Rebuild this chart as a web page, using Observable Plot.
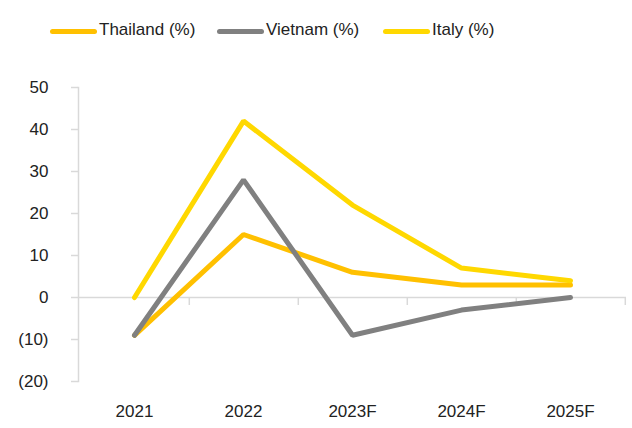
<!DOCTYPE html>
<html><head><meta charset="utf-8">
<script src="https://cdn.jsdelivr.net/npm/d3@7"></script>
<script src="https://cdn.jsdelivr.net/npm/@observablehq/plot@0.6"></script>
<style>
body{margin:0;background:#fff;font-family:"Liberation Sans","DejaVu Sans",sans-serif;}
#legend{height:60px;position:relative;font-size:17px;color:#222;}
.item{position:absolute;top:0;height:60px;display:flex;align-items:center;}
.sw{width:47px;height:5px;border-radius:3px;margin-right:2px;margin-top:3px;}
#chart svg{display:block;}
</style></head><body>
<div id="legend"></div><div id="chart"></div>
<script>
const years = ["2021","2022","2023F","2024F","2025F"];
const thailand = [-9, 15, 6, 3, 3];
const vietnam = [-9, 28, -9, -3, 0];
const italy = [0, 42, 22, 7, 4];
const seriesNames = ["Thailand (%)", "Vietnam (%)", "Italy (%)"];
const seriesColors = ["#FFC000", "#808080", "#FFD800"];
const yTicks = [-20, -10, 0, 10, 20, 30, 40, 50];

const seriesValues = [thailand, vietnam, italy];
const data = [];
seriesNames.forEach((s, i) => years.forEach((y, j) => data.push({series: s, year: y, value: seriesValues[i][j]})));

const legendLeft = [50, 217, 383];
const legend = document.getElementById("legend");
seriesNames.forEach((s, i) => {
  const it = document.createElement("div"); it.className = "item"; it.style.left = legendLeft[i] + "px";
  const sw = document.createElement("div"); sw.className = "sw"; sw.style.background = seriesColors[i];
  const t = document.createElement("span"); t.textContent = s;
  it.appendChild(sw); it.appendChild(t); legend.appendChild(it);
});

const W = 632, H = 368, mL = 78, mR = 6, mT = 27, mB = 47;
const step = (W - mL - mR) / years.length;
const axisColor = "#d9d9d9";
const fmt = d => d < 0 ? `(${-d})` : `${d}`;

const chart = Plot.plot({
  width: W, height: H,
  marginLeft: mL, marginRight: mR, marginTop: mT, marginBottom: mB,
  style: {fontFamily: '"Liberation Sans","DejaVu Sans",sans-serif', fontSize: "17px", color: "#222", background: "#fff"},
  x: {type: "point", domain: years, padding: 0.5, label: null},
  y: {domain: [-20, 50], label: null},
  color: {domain: seriesNames, range: seriesColors},
  marks: [
    Plot.frame({anchor: "left", stroke: axisColor, strokeWidth: 1.5}),
    Plot.axisY({ticks: yTicks, tickFormat: fmt, tickSize: 7, tickPadding: 23, stroke: axisColor, fill: "#222", strokeWidth: 1.5, fontSize: 17, label: null}),
    Plot.axisX({tickSize: 0, tickPadding: 23, fill: "#222", fontSize: 17, label: null}),
    Plot.ruleY([0], {stroke: axisColor, strokeWidth: 1.5}),
    Plot.ruleX(years, {x: d => d, dx: step / 2, y1: 0, y2: 0, insetBottom: -8, stroke: axisColor, strokeWidth: 1.5}),
    Plot.line(data, {x: "year", y: "value", z: "series", stroke: "series", strokeWidth: 5, strokeLinecap: "round", strokeLinejoin: "miter"})
  ]
});
document.getElementById("chart").appendChild(chart);
</script>
</body></html>
